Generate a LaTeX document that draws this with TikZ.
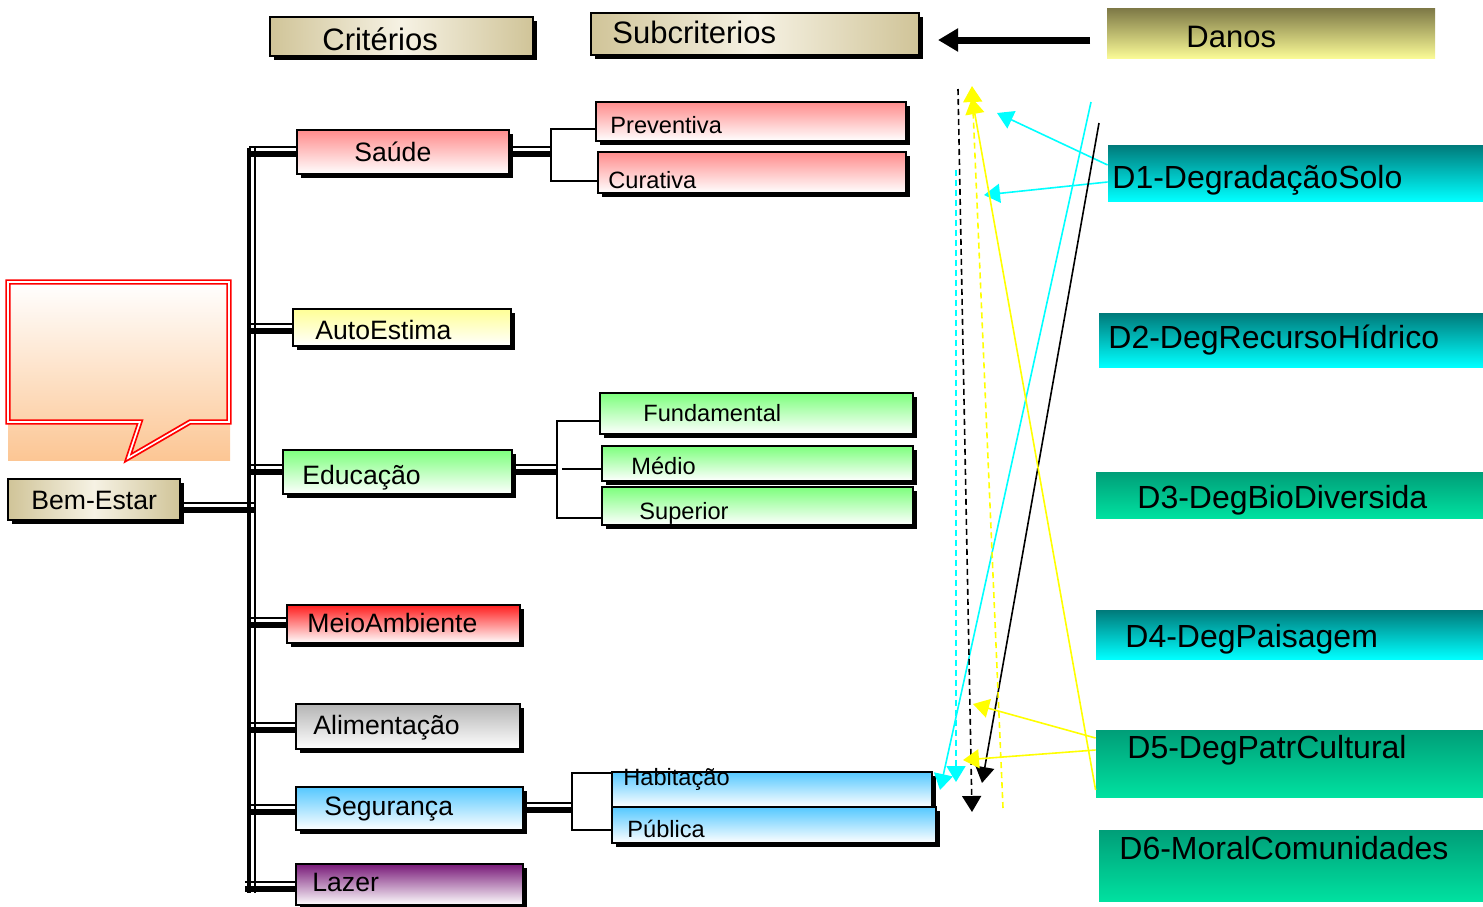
\documentclass[tikz,border=0pt]{standalone}
\usepackage{fontspec}
\setmainfont{Liberation Sans}
\usetikzlibrary{arrows.meta,fit}

\definecolor{pinktop}{RGB}{255,140,140}
\definecolor{yellowtop}{RGB}{255,255,150}
\definecolor{greentop}{RGB}{125,255,125}
\definecolor{redtop}{RGB}{255,30,30}
\definecolor{graytop}{RGB}{180,180,180}
\definecolor{bluetop}{RGB}{85,200,255}
\definecolor{purpletop}{RGB}{120,25,120}
\definecolor{beigeside}{RGB}{208,196,152}
\definecolor{beigemid}{RGB}{246,242,228}
\definecolor{tealtop}{RGB}{0,122,122}
\definecolor{tealbot}{RGB}{0,255,255}
\definecolor{seatop}{RGB}{0,158,120}
\definecolor{seabot}{RGB}{0,225,160}
\definecolor{olivetop}{RGB}{125,120,70}
\definecolor{olivebot}{RGB}{250,250,150}
\definecolor{peach}{RGB}{252,198,148}
\definecolor{linkcyan}{RGB}{0,255,255}
\definecolor{linkyellow}{RGB}{255,255,0}

\tikzset{
  box/.style={draw=black, line width=0.7pt, inner sep=0pt,
    preaction={fill=black, transform canvas={xshift=2pt,yshift=-2pt}}},
  beigebox/.style={box, left color=beigeside, right color=beigeside, middle color=beigemid},
  pinkbox/.style={box, top color=pinktop, bottom color=white},
  yellowbox/.style={box, top color=yellowtop, bottom color=white},
  greenbox/.style={box, top color=greentop, bottom color=white},
  redbox/.style={box, top color=redtop, bottom color=white},
  graybox/.style={box, top color=graytop, bottom color=white},
  bluebox/.style={box, top color=bluetop, bottom color=white},
  purplebox/.style={box, top color=purpletop, bottom color=white},
  dbox/.style={draw=none, inner sep=0pt},
  tealbox/.style={dbox, top color=tealtop, bottom color=tealbot},
  seabox/.style={dbox, top color=seatop, bottom color=seabot},
  olivebox/.style={dbox, top color=olivetop, bottom color=olivebot},
  hdtxt/.style={anchor=base west, inner sep=0pt, font=\fontsize{15.5}{18}\selectfont},
  crittxt/.style={anchor=base west, inner sep=0pt, font=\fontsize{13.3}{16}\selectfont},
  subtxt/.style={anchor=base west, inner sep=0pt, font=\fontsize{11.8}{14}\selectfont},
  dtxt/.style={anchor=base west, inner sep=0pt, font=\fontsize{16}{19}\selectfont},
  twin/.style={line width=3pt, postaction={draw, line width=0.6pt, transform canvas={yshift=3.5pt}}},
  trunkline/.style={line width=2pt, postaction={draw, line width=0.6pt, transform canvas={xshift=3pt}}},
  hair/.style={line width=0.6pt},
  link/.style={line width=0.8pt, -{Triangle[length=8pt,width=9.5pt]}},
  bigarrow/.style={line width=3.5pt, -{Triangle[length=10pt,width=11pt]}},
}

\begin{document}
\begin{tikzpicture}[x=0.5pt,y=0.5pt,yscale=-1,xscale=1]
\useasboundingbox (0,0) rectangle (1483,906);

%Shape: Callout
\shade[top color=white, bottom color=peach] (8,282) rectangle (230,460);
\draw[red, line width=0.9pt, double=white, double distance=0.8pt] (8,282) -- (229,282) -- (229,422) -- (190,422) -- (128,458) -- (140,422) -- (8,422) -- cycle;

%Shape: Rectangle (headers)
\node[beigebox, fit={(270,17) (533,56)}] (crit) {};
\node[beigebox, fit={(591,13) (919,55)}] (subcrit) {};
\node[olivebox, fit={(1107,8) (1435,58)}] (danos) {};
\node[beigebox, fit={(8,479) (180,520)}] (bem) {};

%Shape: Rectangle (criterios)
\node[pinkbox, fit={(297,130) (509,174)}] (saude) {};
\node[yellowbox, fit={(293,309) (511,346)}] (auto) {};
\node[greenbox, fit={(283,450) (512,494)}] (edu) {};
\node[redbox, fit={(287,605) (520,643)}] (meio) {};
\node[graybox, fit={(296,704) (520,749)}] (alim) {};
\node[bluebox, fit={(296,787) (523,830)}] (seg) {};
\node[purplebox, fit={(296,864) (523,905)}] (lazer) {};

%Shape: Rectangle (subcriterios)
\node[pinkbox, fit={(596,102) (906,141)}] (prev) {};
\node[pinkbox, fit={(598,152) (906,193)}] (cur) {};
\node[greenbox, fit={(600,393) (913,434)}] (fund) {};
\node[greenbox, fit={(602,446) (913,481)}] (medio) {};
\node[greenbox, fit={(602,487) (913,525)}] (sup) {};
\node[bluebox, fit={(612,772) (932,807)}] (hab) {};
\node[bluebox, fit={(612,807) (936,843)}] (pub) {};

%Shape: Rectangle (danos)
\node[tealbox, fit={(1108,145) (1483,201)}] (d1) {};
\node[tealbox, fit={(1099,313) (1483,367)}] (d2) {};
\node[seabox, fit={(1096,472) (1483,518)}] (d3) {};
\node[tealbox, fit={(1096,610) (1483,659)}] (d4) {};
\node[seabox, fit={(1096,730) (1483,797)}] (d5) {};
\node[seabox, fit={(1099,830) (1483,901)}] (d6) {};

%Straight Lines (tree)
\coordinate (trunk) at (249,148);
\coordinate (trunk-end) at (249,893);
\draw[trunkline] (trunk) -- (trunk-end);
\draw[twin] (bem.east |- 0,510) -- (256,510);
\draw[twin] (trunk |- 0,154) -- (saude.west |- 0,154);
\draw[twin] (trunk |- 0,331) -- (auto.west |- 0,331);
\draw[twin] (trunk |- 0,472) -- (edu.west |- 0,472);
\draw[twin] (trunk |- 0,625) -- (meio.west |- 0,625);
\draw[twin] (trunk |- 0,730) -- (alim.west |- 0,730);
\draw[twin] (trunk |- 0,812) -- (seg.west |- 0,812);
\draw[twin] (245,889) -- (lazer.west |- 0,889);

%Straight Lines (brackets)
\draw[twin] (saude.east |- 0,154) -- (550,154);
\draw[hair] (prev.west |- 0,129) -- (551,129) -- (551,181) -- (cur.west |- 0,181);
\draw[twin] (edu.east |- 0,472) -- (557,472);
\draw[hair] (fund.west |- 0,421) -- (557,421) -- (557,518) -- (sup.west |- 0,518);
\draw[hair] (562,469) -- (medio.west |- 0,469);
\draw[twin] (seg.east |- 0,810) -- (571,810);
\draw[hair] (hab.west |- 0,773) -- (572,773) -- (572,830) -- (pub.west |- 0,830);

%Straight Lines (arrow to subcriterios)
\coordinate (arr-tail) at (1090,40);
\coordinate (arr-head) at (938,40);
\draw[bigarrow] (arr-tail) -- (arr-head);

%Straight Lines (links)
\coordinate (cy-tip1) at (997,113);
\coordinate (cy-tip2) at (984,195);
\coordinate (cy-top) at (1091,102);
\coordinate (cy-bot) at (940,790);
\coordinate (cyd-top) at (956,170);
\coordinate (cyd-bot) at (956,782);
\coordinate (bk-top) at (1099,123);
\coordinate (bk-bot) at (982,783);
\coordinate (bkd-top) at (958,89);
\coordinate (bkd-bot) at (972,812);
\coordinate (yl-top) at (972,98);
\coordinate (yld-top) at (972,86);
\coordinate (yld-bot) at (1003,808);
\coordinate (yl-tip1) at (973,704);
\coordinate (yl-tip2) at (963,760);
\draw[link, linkcyan] (d1.west |- 0,165) -- (cy-tip1);
\draw[link, linkcyan] (d1.west |- 0,182) -- (cy-tip2);
\draw[link, linkcyan] (cy-top) -- (cy-bot);
\draw[link, linkcyan, dash pattern=on 3pt off 2pt] (cyd-top) -- (cyd-bot);
\draw[link, black] (bk-top) -- (bk-bot);
\draw[link, black, dash pattern=on 3pt off 2pt] (bkd-top) -- (bkd-bot);
\draw[link, linkyellow] (d5.west |- 0,790) -- (yl-top);
\draw[link, linkyellow, dash pattern=on 3pt off 2pt] (yld-bot) -- (yld-top);
\draw[link, linkyellow] (d5.west |- 0,738) -- (yl-tip1);
\draw[link, linkyellow] (d5.west |- 0,750) -- (yl-tip2);

% Text Node
\draw (322,50) node[hdtxt] (t-crit) {Critérios};
% Text Node
\draw (612,43) node[hdtxt] (t-subcrit) {Subcriterios};
% Text Node
\draw (1186,47) node[hdtxt] (t-danos) {Danos};
% Text Node
\draw (31,509) node[crittxt] (t-bem) {Bem-Estar};
% Text Node
\draw (354,161) node[crittxt] (t-saude) {Saúde};
% Text Node
\draw (315,339) node[crittxt] (t-auto) {AutoEstima};
% Text Node
\draw (302,484) node[crittxt] (t-edu) {Educação};
% Text Node
\draw (307,632) node[crittxt] (t-meio) {MeioAmbiente};
% Text Node
\draw (313,734) node[crittxt] (t-alim) {Alimentação};
% Text Node
\draw (324,815) node[crittxt] (t-seg) {Segurança};
% Text Node
\draw (312,891) node[crittxt] (t-lazer) {Lazer};
% Text Node
\draw (610,133) node[subtxt] (t-prev) {Preventiva};
% Text Node
\draw (608,188) node[subtxt] (t-cur) {Curativa};
% Text Node
\draw (643,421) node[subtxt] (t-fund) {Fundamental};
% Text Node
\draw (631,474) node[subtxt] (t-medio) {Médio};
% Text Node
\draw (639,519) node[subtxt] (t-sup) {Superior};
% Text Node
\draw (623,785) node[subtxt] (t-hab) {Habitação};
% Text Node
\draw (627,837) node[subtxt] (t-pub) {Pública};
% Text Node
\draw (1112,188) node[dtxt] (t-d1) {D1-DegradaçãoSolo};
% Text Node
\draw (1108,348) node[dtxt] (t-d2) {D2-DegRecursoHídrico};
% Text Node
\draw (1137,508) node[dtxt] (t-d3) {D3-DegBioDiversida};
% Text Node
\draw (1125,647) node[dtxt] (t-d4) {D4-DegPaisagem};
% Text Node
\draw (1127,758) node[dtxt] (t-d5) {D5-DegPatrCultural};
% Text Node
\draw (1119,859) node[dtxt] (t-d6) {D6-MoralComunidades};

\end{tikzpicture}
\end{document}
